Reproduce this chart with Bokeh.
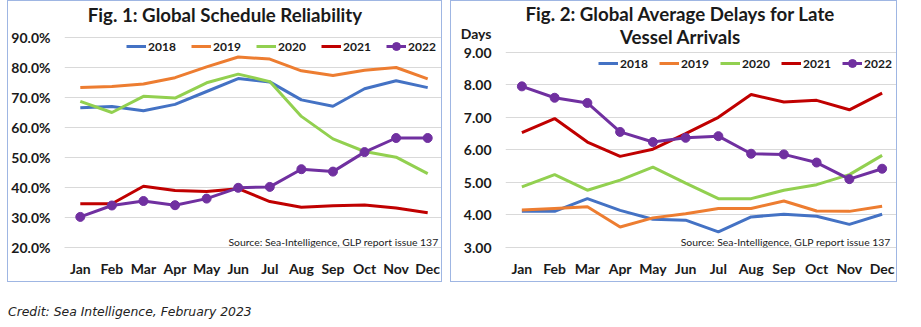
from bokeh.plotting import figure
from bokeh.models import Range1d, FactorRange, Label, Legend, LegendItem, PrintfTickFormatter, Div, FixedTicker
from bokeh.layouts import row, column
from bokeh.embed import file_html
from bokeh.resources import INLINE

months = ["Jan", "Feb", "Mar", "Apr", "May", "Jun", "Jul", "Aug", "Sep", "Oct", "Nov", "Dec"]
years = ["2018", "2019", "2020", "2021", "2022"]
colors = ["#4472C4", "#ED7D31", "#92D050", "#C00000", "#7030A0"]

rel_2018 = [66.6, 67.0, 65.6, 67.7, 72.0, 76.3, 75.2, 69.2, 67.1, 72.9, 75.6, 73.3]
rel_2019 = [73.3, 73.7, 74.5, 76.6, 80.2, 83.5, 82.8, 78.9, 77.3, 79.1, 80.0, 76.2]
rel_2020 = [68.7, 65.0, 70.4, 69.8, 74.9, 77.8, 75.3, 63.7, 56.2, 52.0, 50.1, 44.6]
rel_2021 = [34.6, 34.6, 40.4, 39.0, 38.7, 39.6, 35.3, 33.4, 33.9, 34.2, 33.2, 31.6]
rel_2022 = [30.2, 34.0, 35.5, 34.1, 36.3, 39.9, 40.2, 46.1, 45.3, 51.8, 56.5, 56.5]

delay_2018 = [4.11, 4.11, 4.50, 4.14, 3.87, 3.84, 3.48, 3.94, 4.02, 3.96, 3.71, 4.02]
delay_2019 = [4.15, 4.20, 4.25, 3.63, 3.91, 4.04, 4.20, 4.20, 4.43, 4.12, 4.11, 4.27]
delay_2020 = [4.86, 5.24, 4.76, 5.07, 5.47, 4.98, 4.50, 4.50, 4.76, 4.93, 5.24, 5.83]
delay_2021 = [6.53, 6.96, 6.24, 5.80, 6.02, 6.50, 7.00, 7.70, 7.47, 7.52, 7.23, 7.74]
delay_2022 = [7.95, 7.60, 7.44, 6.55, 6.24, 6.37, 6.42, 5.88, 5.86, 5.61, 5.10, 5.42]

rel_ticks = [20, 30, 40, 50, 60, 70, 80, 90]
delay_ticks = [3, 4, 5, 6, 7, 8, 9]
days_tick = 9.57

title1 = "Fig. 1: Global Schedule Reliability"
title2a = "Fig. 2: Global Average Delays for Late"
title2b = "Vessel Arrivals"
days_label = "Days"
source = "Source: Sea-Intelligence, GLP report issue 137"
credit = "Credit: Sea Intelligence, February 2023"

FONT = "Lato"
TXT = "#1a1a1a"
BORDER = "#9FB6E3"


def make_fig(width, mbl, y0, y1, ticks, fmt, series):
    p = figure(x_range=FactorRange(*months), y_range=Range1d(y0, y1),
               width=width, height=282, output_backend="svg", toolbar_location=None,
               min_border_left=mbl, min_border_right=0, min_border_top=0, min_border_bottom=36)
    p.styles = {"border": "1px solid " + BORDER}
    p.outline_line_color = None
    p.xgrid.visible = False
    p.ygrid.grid_line_color = "#D9D9D9"
    p.ygrid.grid_line_width = 1
    p.yaxis.ticker = ticks
    p.ygrid.ticker = FixedTicker(ticks=ticks)
    p.yaxis.formatter = PrintfTickFormatter(format=fmt)
    p.yaxis.axis_line_color = None
    p.yaxis.major_tick_line_color = None
    p.yaxis.minor_tick_line_color = None
    p.yaxis.major_tick_out = 0
    p.yaxis.major_tick_in = 0
    p.yaxis.major_label_standoff = 14
    p.xaxis.axis_line_color = "#D9D9D9"
    p.xaxis.major_tick_line_color = None
    p.xaxis.major_tick_out = 0
    p.xaxis.major_tick_in = 0
    p.xaxis.major_label_standoff = 12
    for ax in (p.xaxis, p.yaxis):
        ax.major_label_text_font = FONT
        ax.major_label_text_font_style = "bold"
        ax.major_label_text_font_size = "14px"
        ax.major_label_text_color = TXT
    items = []
    for yr, col, vals in zip(years, colors, series):
        r = p.line(months, vals, line_color=col, line_width=3)
        rs = [r]
        if yr == "2022":
            s = p.scatter(months, vals, size=9, fill_color=col, line_color=col)
            rs.append(s)
        items.append(LegendItem(label=yr, renderers=rs))
    return p, items


def make_legend(items, loc, spacing):
    return Legend(items=items, orientation="horizontal", location=loc, padding=0, margin=0,
                  spacing=spacing, glyph_width=20, glyph_height=20, label_standoff=2, label_width=28,
                  label_text_font=FONT, label_text_font_style="bold", label_text_font_size="12px",
                  label_text_color=TXT, background_fill_alpha=0, border_line_color=None)


p1, items1 = make_fig(435, 55, 20, 102, rel_ticks, "%.1f%%",
                      [rel_2018, rel_2019, rel_2020, rel_2021, rel_2022])
p1.add_layout(make_legend(items1, (62, 191), 15))
p1.add_layout(Label(x=5.08, y=97.6, text=title1, text_align="center", text_baseline="middle",
                    text_font=FONT, text_font_style="bold", text_font_size="18.7px", text_color=TXT))
p1.add_layout(Label(x=11.84, y=21.8, text=source, text_align="right", text_baseline="middle",
                    text_font=FONT, text_font_size="10.4px", text_color=TXT))

p2, items2 = make_fig(447, 54, 3, 10.557, delay_ticks + [days_tick], "%.2f",
                      [delay_2018, delay_2019, delay_2020, delay_2021, delay_2022])
p2.ygrid.ticker = FixedTicker(ticks=delay_ticks)
p2.yaxis.major_label_overrides = {days_tick: days_label}
p2.add_layout(make_legend(items2, (93, 174), 11))
p2.add_layout(Label(x=5.34, y=10.16, text=title2a, text_align="center", text_baseline="middle",
                    text_font=FONT, text_font_style="bold", text_font_size="18.7px", text_color=TXT))
p2.add_layout(Label(x=5.34, y=9.47, text=title2b, text_align="center", text_baseline="middle",
                    text_font=FONT, text_font_style="bold", text_font_size="18.7px", text_color=TXT))
p2.add_layout(Label(x=11.76, y=3.17, text=source, text_align="right", text_baseline="middle",
                    text_font=FONT, text_font_size="10.4px", text_color=TXT))

p1.margin = (0, 0, 0, 7)
p2.margin = (0, 0, 0, 8)

div = Div(text=credit, width=400, height=18, margin=(21, 0, 0, 8),
          styles={"font-family": "DejaVu Sans", "font-style": "italic", "font-size": "12.4px",
                  "color": "#222222"})

layout = column(row(p1, p2), div)
open("out.html", "w").write(file_html(layout, INLINE))
